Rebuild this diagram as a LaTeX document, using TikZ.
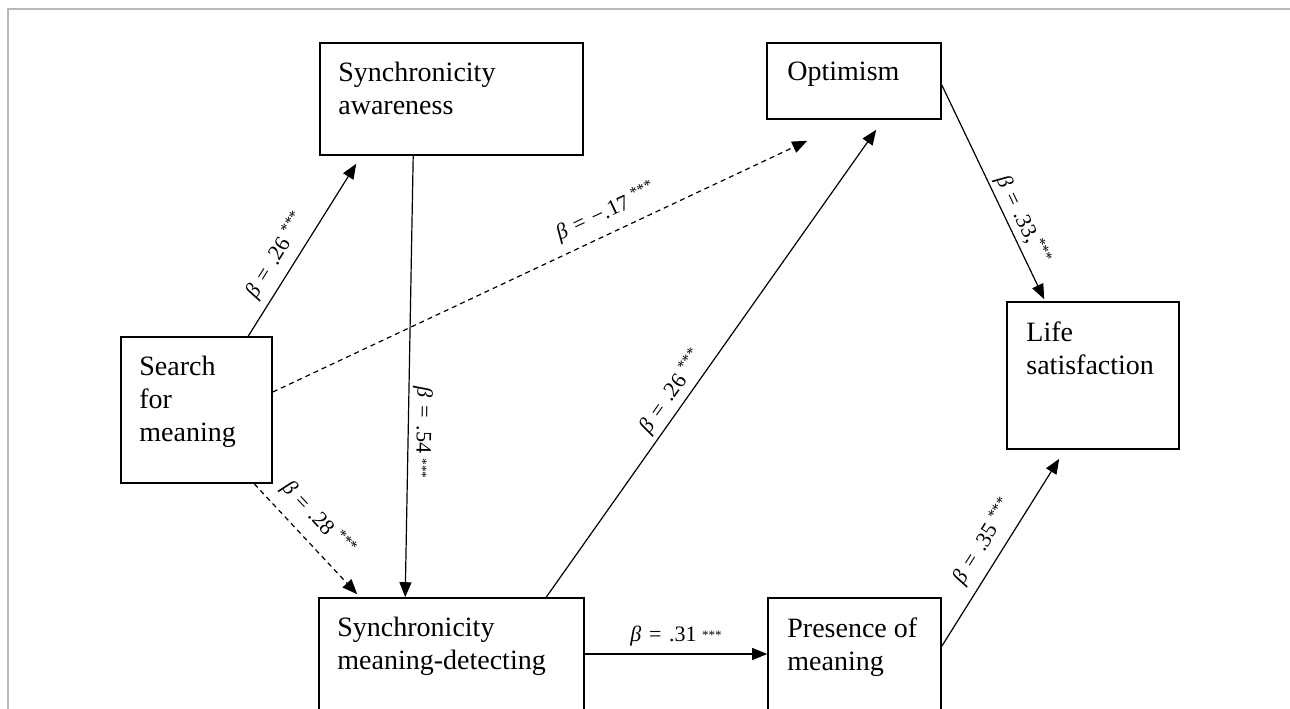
\documentclass[tikz,border=0pt]{standalone}
\usepackage{fontspec}
\setmainfont{Liberation Serif}
\usetikzlibrary{arrows.meta,calc}

\newcommand{\bet}{\textit{β}\hspace{0.35em}=\hspace{0.35em}}
\newcommand{\sig}{\textsuperscript{***}}
\newcommand{\sigmid}{\raisebox{2pt}{\fontsize{13}{13}\selectfont ***}}

\begin{document}
\begin{tikzpicture}[x=1pt,y=-1pt,
    box/.style={draw, line width=1.6pt, inner sep=0pt},
    txt/.style={anchor=north west, align=left, inner sep=0pt, font=\fontsize{28}{33}\selectfont},
    arr/.style={line width=1.2pt, -{Triangle[length=15pt,width=12pt]}},
    dsh/.style={arr, dash pattern=on 5pt off 4pt},
    coeffont/.style={font=\fontsize{22}{24}\selectfont},
    coef/.style={coeffont, sloped, above=#1},
    coef/.default=4pt]
        \useasboundingbox (0,0) rectangle (1290,709);
        \clip (0,0) rectangle (1290,709);

        % frame of the figure
        \draw[gray!55, line width=1.5pt] (8,709) -- (8,9) -- (1290,9);

        % boxes
        \node[box, minimum width=151pt, minimum height=146pt] (search) at (196.5,410) {};
        \node[box, minimum width=263pt, minimum height=112pt] (sa) at (451.5,99) {};
        \node[box, minimum width=174pt, minimum height=76pt] (opt) at (854,81) {};
        \node[box, minimum width=172pt, minimum height=147pt] (life) at (1093,375.5) {};
        \node[box, minimum width=265pt, minimum height=160pt] (smd) at (451.5,678) {};
        \node[box, minimum width=173pt, minimum height=160pt] (pres) at (854.5,678) {};

        \node[txt] (search-txt) at ([shift={(19pt,-20pt)}]search.north west) {Search\\for\\meaning};
        \node[txt] (sa-txt) at ([shift={(19pt,-20pt)}]sa.north west) {Synchronicity\\awareness};
        \node[txt] (opt-txt) at ([shift={(21pt,-20pt)}]opt.north west) {Optimism};
        \node[txt] (life-txt) at ([shift={(20pt,-20pt)}]life.north west) {Life\\satisfaction};
        \node[txt] (smd-txt) at ([shift={(19pt,-20pt)}]smd.north west) {Synchronicity\\meaning-detecting};
        \node[txt] (pres-txt) at ([shift={(20pt,-20pt)}]pres.north west) {Presence of\\meaning};

        % paths
        \draw[arr] ([xshift=128pt]search.north west) -- node[coef=4pt, pos=0.41] {\bet.26 \sig} ([shift={(37pt,-8pt)}]sa.south west);
        \draw[dsh] ([yshift=18pt]search.east) -- node[coef=6pt, pos=0.64] {\bet−.17 \sig} ([shift={(41pt,-21pt)}]opt.south west);
        \draw[arr] ([xshift=94pt]sa.south west) -- node[coeffont, pos=0.62, anchor=south, rotate=-91, xshift=3pt] {\bet.54 \sigmid} ([xshift=87pt]smd.north west);
        \draw[dsh] ([xshift=134pt]search.south west) -- node[coef=8pt, pos=0.46] {\bet.28 \sig} ([shift={(39pt,3pt)}]smd.north west);
        \draw[arr] ([xshift=228pt]smd.north west) -- node[coef=1pt, pos=0.42] {\bet.26 \sig} ([shift={(110pt,-10pt)}]opt.south west);
        \draw[arr] ([yshift=-4pt]opt.east) -- node[coef=0pt, pos=0.66] {\bet.33,\sig} ([shift={(38pt,2pt)}]life.north west);
        \draw[arr] ([yshift=24pt]smd.east) -- node[coef=4pt] {\bet.31 \sigmid} ([yshift=24pt]pres.west);
        \draw[arr] ([yshift=-49pt]pres.north east) -- node[coef=5pt, pos=0.5] {\bet.35 \sig} ([shift={(53pt,-9pt)}]life.south west);
    \end{tikzpicture}
\end{document}
